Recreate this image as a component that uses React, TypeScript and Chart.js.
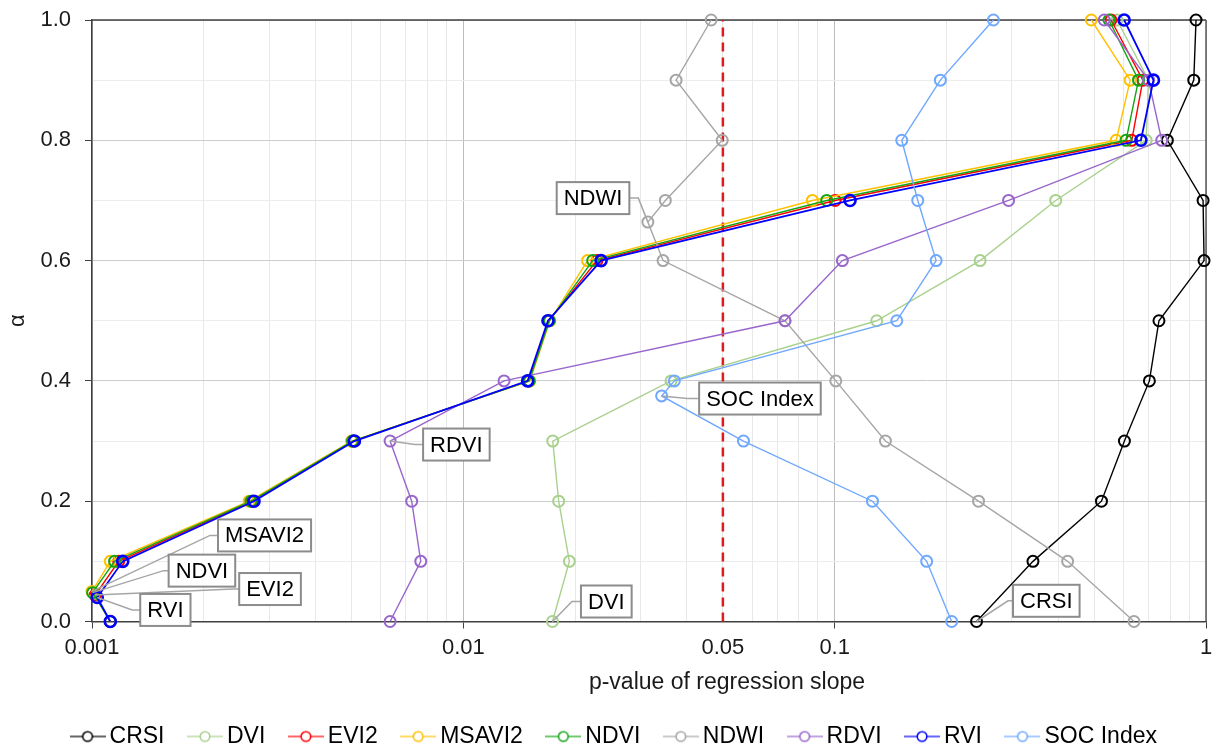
import React, { useEffect, useRef } from 'react';
import { Chart, registerables } from 'chart.js';

Chart.register(...registerables);

const FONT = '"Liberation Sans", Arial, Helvetica, sans-serif';
const TEXT = '#1a1a1a';

// α levels used by most indices
const ALPHA = [0, 0.1, 0.2, 0.3, 0.4, 0.5, 0.6, 0.7, 0.8, 0.9, 1.0];

// p-value of the regression slope for each index at each α
const CRSI_ALPHA = ALPHA;
const CRSI_P = [0.241, 0.342, 0.523, 0.603, 0.704, 0.747, 0.988, 0.982, 0.787, 0.927, 0.94];

const DVI_ALPHA = ALPHA;
const DVI_P = [0.01738, 0.0193, 0.01806, 0.01741, 0.03626, 0.1298, 0.2464, 0.3938, 0.69, 0.7, 0.576];

const EVI2_ALPHA = [0, 0.044, 0.1, 0.2, 0.3, 0.4, 0.5, 0.6, 0.7, 0.8, 0.9, 1.0];
const EVI2_P = [0.00112, 0.00102, 0.00118, 0.0027, 0.00505, 0.015, 0.017, 0.0229, 0.1003, 0.631, 0.676, 0.555];

const MSAVI2_ALPHA = [0, 0.05, 0.1, 0.2, 0.3, 0.4, 0.5, 0.6, 0.7, 0.8, 0.9, 1.0];
const MSAVI2_P = [0.00112, 0.001, 0.00112, 0.00265, 0.005, 0.0151, 0.0171, 0.0216, 0.0871, 0.573, 0.625, 0.491];

const NDVI_ALPHA = [0, 0.048, 0.1, 0.2, 0.3, 0.4, 0.5, 0.6, 0.7, 0.8, 0.9, 1.0];
const NDVI_P = [0.00112, 0.001004, 0.00115, 0.00268, 0.00503, 0.01505, 0.01705, 0.0223, 0.0952, 0.609, 0.658, 0.548];

const NDWI_ALPHA = [0, 0.1, 0.2, 0.3, 0.4, 0.5, 0.6, 0.664, 0.7, 0.8, 0.9, 1.0];
const NDWI_P = [0.64, 0.424, 0.244, 0.137, 0.1007, 0.0735, 0.0345, 0.0314, 0.035, 0.0498, 0.0374, 0.0465];

const RDVI_ALPHA = ALPHA;
const RDVI_P = [0.00635, 0.00768, 0.00726, 0.00635, 0.01287, 0.0735, 0.1049, 0.294, 0.76, 0.7, 0.532];

const RVI_ALPHA = [0, 0.04, 0.1, 0.2, 0.3, 0.4, 0.5, 0.6, 0.7, 0.8, 0.9, 1.0];
const RVI_P = [0.00112, 0.001033, 0.00121, 0.00273, 0.00509, 0.0149, 0.0169, 0.0235, 0.11, 0.668, 0.722, 0.602];

const SOC_ALPHA = [0, 0.1, 0.2, 0.3, 0.375, 0.4, 0.5, 0.6, 0.7, 0.8, 0.9, 1.0];
const SOC_P = [0.2066, 0.1769, 0.1264, 0.0568, 0.0342, 0.037, 0.147, 0.1876, 0.1674, 0.1516, 0.1926, 0.2676];

const SERIES_NAMES = ['CRSI', 'DVI', 'EVI2', 'MSAVI2', 'NDVI', 'NDWI', 'RDVI', 'RVI', 'SOC Index'];
const SERIES_ALPHAS = [CRSI_ALPHA, DVI_ALPHA, EVI2_ALPHA, MSAVI2_ALPHA, NDVI_ALPHA, NDWI_ALPHA, RDVI_ALPHA, RVI_ALPHA, SOC_ALPHA];
const SERIES_PVALUES = [CRSI_P, DVI_P, EVI2_P, MSAVI2_P, NDVI_P, NDWI_P, RDVI_P, RVI_P, SOC_P];
const SERIES_COLORS = ['#000000', '#a9d18e', '#ff0000', '#ffc000', '#14a514', '#a6a6a6', '#9966cc', '#0000ff', '#6fa8ff'];

// significance threshold marked with the dashed line
const SIGNIFICANCE = 0.05;
const SIGNIFICANCE_LABEL = 'p = 0.05';

// axis ticks
const X_TICK_LABELS = [0.001, 0.01, 0.05, 0.1, 1];
const X_DECADES = [0.001, 0.01, 0.1];
const Y_TICK_VALUES = ALPHA;
const Y_LABEL_STEP = 0.2;

const X_TITLE = 'p-value of regression slope';
const Y_TITLE = 'α';

// callout boxes: box edge offset (px) from the point it names
const CALLOUTS = [
  { series: 'MSAVI2', alpha: 0.05, dx: 126, dy: -56, side: 'left', elbow: 8 },
  { series: 'NDVI', alpha: 0.048, dx: 76, dy: -22, side: 'left', elbow: 5 },
  { series: 'EVI2', alpha: 0.044, dx: 144, dy: -6, side: 'left', elbow: 6 },
  { series: 'RVI', alpha: 0.04, dx: 43, dy: 12.5, side: 'left', elbow: 8 },
  { series: 'NDWI', alpha: 0.664, dx: -18.5, dy: -24, side: 'right', elbow: 9 },
  { series: 'RDVI', alpha: 0.3, dx: 33, dy: 3.5, side: 'left', elbow: 8 },
  { series: 'DVI', alpha: 0, dx: 28.5, dy: -20, side: 'left', elbow: 9 },
  { series: 'SOC Index', alpha: 0.375, dx: 37.5, dy: 2.6, side: 'left', elbow: 12 },
  { series: 'CRSI', alpha: 0, dx: 36.5, dy: -20.7, side: 'left', elbow: 5 },
];

const W = 1219;
const H = 749;
const LEGEND_HEIGHT = 54;
const LEGEND_SHIFT = 14;

const isDecade = (v: number) => Math.abs(Math.log10(v) - Math.round(Math.log10(v))) < 1e-6;
const isMajorY = (v: number) => Math.abs(v / Y_LABEL_STEP - Math.round(v / Y_LABEL_STEP)) < 1e-6;

function xGridValues(): number[] {
  const out: number[] = [];
  for (const d of X_DECADES) {
    for (let m = 1; m <= 9; m++) out.push(Number((m * d).toPrecision(6)));
  }
  out.push(1);
  return out;
}

function xLabel(v: number): string {
  const hit = X_TICK_LABELS.find((t) => Math.abs(v - t) / t < 1e-6);
  return hit === undefined ? '' : String(hit);
}

function makeMarker(color: string): HTMLCanvasElement {
  const c = document.createElement('canvas');
  c.width = 36;
  c.height = 14;
  const g = c.getContext('2d')!;
  g.strokeStyle = color;
  g.lineWidth = 1.6;
  g.globalAlpha = 0.8;
  g.beginPath();
  g.moveTo(0, 7);
  g.lineTo(13, 7);
  g.moveTo(23, 7);
  g.lineTo(36, 7);
  g.stroke();
  g.globalAlpha = 1;
  g.beginPath();
  g.arc(18, 7, 4.8, 0, Math.PI * 2);
  g.stroke();
  return c;
}

// fixed legend band height and a small horizontal offset for the legend row
const legendPlacementPlugin = {
  id: 'legendPlacement',
  beforeLayout(chart: any) {
    const lg = chart.legend;
    if (lg && !lg.__placed) {
      const fit = lg.fit.bind(lg);
      lg.fit = function () {
        fit();
        this.height = LEGEND_HEIGHT;
      };
      const draw = lg.draw.bind(lg);
      lg.draw = function () {
        const ctx = this.ctx;
        ctx.save();
        ctx.translate(LEGEND_SHIFT, 0);
        draw();
        ctx.restore();
      };
      lg.__placed = true;
    }
  },
};

const framePlugin = {
  id: 'frame',
  beforeDatasetsDraw(chart: any) {
    const { ctx, chartArea } = chart;
    ctx.save();
    ctx.lineWidth = 1.5;
    ctx.strokeStyle = '#404040';
    ctx.beginPath();
    ctx.moveTo(chartArea.left, chartArea.top);
    ctx.lineTo(chartArea.right, chartArea.top);
    ctx.stroke();
    ctx.strokeStyle = '#5a5a5a';
    ctx.beginPath();
    ctx.moveTo(chartArea.right, chartArea.top);
    ctx.lineTo(chartArea.right, chartArea.bottom);
    ctx.stroke();
    ctx.restore();
  },
  afterDraw(chart: any) {
    const { ctx } = chart;
    ctx.save();
    ctx.font = `23px ${FONT}`;
    ctx.fillStyle = TEXT;
    ctx.textAlign = 'center';
    ctx.textBaseline = 'middle';
    ctx.fillText(X_TITLE, 727, 683);
    ctx.restore();
  },
};

const calloutPlugin = {
  id: 'callouts',
  afterDatasetsDraw(chart: any) {
    const { ctx } = chart;
    const xs = chart.scales.x;
    const ys = chart.scales.y;
    ctx.save();
    ctx.font = `22px ${FONT}`;
    for (const c of CALLOUTS) {
      const si = SERIES_NAMES.indexOf(c.series);
      const k = SERIES_ALPHAS[si].indexOf(c.alpha);
      const ax = xs.getPixelForValue(SERIES_PVALUES[si][k]);
      const ay = ys.getPixelForValue(SERIES_ALPHAS[si][k]);
      const tw = ctx.measureText(c.series).width;
      const bw = tw + 14;
      const bh = 32;
      const ex = ax + c.dx;
      const ey = ay + c.dy;
      const bx = c.side === 'left' ? ex : ex - bw;
      const kx = c.side === 'left' ? ex - c.elbow : ex + c.elbow;
      ctx.strokeStyle = '#a6a6a6';
      ctx.lineWidth = 1.5;
      ctx.beginPath();
      ctx.moveTo(ax, ay);
      ctx.lineTo(kx, ey);
      ctx.lineTo(ex, ey);
      ctx.stroke();
      ctx.fillStyle = '#ffffff';
      ctx.fillRect(bx, ey - bh / 2, bw, bh);
      ctx.strokeStyle = '#8c8c8c';
      ctx.lineWidth = 2;
      ctx.strokeRect(bx, ey - bh / 2, bw, bh);
      ctx.fillStyle = '#000000';
      ctx.textAlign = 'left';
      ctx.textBaseline = 'middle';
      ctx.fillText(c.series, bx + 7, ey + 1);
    }
    ctx.restore();
  },
};

export default function App() {
  const ref = useRef<HTMLCanvasElement | null>(null);

  useEffect(() => {
    document.body.style.margin = '0';
    const canvas = ref.current;
    if (!canvas) return;
    const markers = SERIES_COLORS.map((c) => makeMarker(c));
    const n = SERIES_NAMES.length;

    const datasets: any[] = SERIES_NAMES.map((name, i) => ({
      label: name,
      data: SERIES_ALPHAS[i].map((a, k) => ({ x: SERIES_PVALUES[i][k], y: a })),
      borderColor: SERIES_COLORS[i],
      backgroundColor: 'rgba(0,0,0,0)',
      borderWidth: name === 'RVI' ? 1.8 : 1.4,
      pointRadius: 5.5,
      pointBorderWidth: name === 'RVI' ? 2.6 : 2,
      pointBorderColor: SERIES_COLORS[i],
      pointBackgroundColor: 'rgba(0,0,0,0)',
      pointStyle: 'circle',
      fill: false,
      tension: 0,
      clip: false,
      order: n - i,
    }));
    datasets.push({
      label: SIGNIFICANCE_LABEL,
      data: [
        { x: SIGNIFICANCE, y: 0 },
        { x: SIGNIFICANCE, y: 1 },
      ],
      borderColor: '#e31a1c',
      borderDash: [9, 6],
      borderWidth: 2.5,
      pointRadius: 0,
      fill: false,
      clip: false,
      order: 100,
    });

    const gridX = xGridValues();

    const chart = new Chart(canvas, {
      type: 'line',
      data: { datasets },
      plugins: [legendPlacementPlugin, framePlugin, calloutPlugin],
      options: {
        responsive: false,
        animation: false,
        events: [],
        layout: { padding: { top: 20, right: 13, left: 0, bottom: 0 } },
        scales: {
          x: {
            type: 'logarithmic',
            min: 0.001,
            max: 1,
            afterBuildTicks: (s: any) => {
              s.ticks = gridX.map((v) => ({ value: v }));
            },
            afterFit: (s: any) => {
              s.height = 73.5;
            },
            ticks: {
              autoSkip: false,
              maxRotation: 0,
              padding: 6,
              color: TEXT,
              font: { size: 22, family: FONT },
              callback: (v: any) => xLabel(Number(v)),
            },
            grid: {
              color: (ctx: any) => (ctx.tick && isDecade(ctx.tick.value) ? '#bdbdbd' : '#e8e8e8'),
              tickColor: (ctx: any) => (ctx.tick && isDecade(ctx.tick.value) ? '#404040' : 'rgba(0,0,0,0)'),
              tickLength: 7,
              lineWidth: 1,
            },
            border: { color: '#404040', width: 1.5 },
          } as any,
          y: {
            type: 'linear',
            min: 0,
            max: 1,
            afterBuildTicks: (s: any) => {
              s.ticks = Y_TICK_VALUES.map((v) => ({ value: v }));
            },
            afterFit: (s: any) => {
              s.width = 92;
              s.paddingTop = 0;
              s.paddingBottom = 0;
            },
            ticks: {
              autoSkip: false,
              padding: 14,
              color: TEXT,
              font: { size: 22, family: FONT },
              callback: (v: any) => (isMajorY(Number(v)) ? Number(v).toFixed(1) : ''),
            },
            grid: {
              color: (ctx: any) => (ctx.tick && isMajorY(ctx.tick.value) ? '#cccccc' : '#ececec'),
              tickColor: (ctx: any) => (ctx.tick && isMajorY(ctx.tick.value) ? '#404040' : 'rgba(0,0,0,0)'),
              tickLength: 7,
              lineWidth: 1,
            },
            border: { color: '#404040', width: 1.5 },
            title: {
              display: true,
              text: Y_TITLE,
              color: TEXT,
              font: { size: 22, family: FONT },
              padding: { top: 5, bottom: 0 },
            },
          } as any,
        },
        plugins: {
          tooltip: { enabled: false },
          legend: {
            position: 'bottom',
            labels: {
              usePointStyle: true,
              pointStyleWidth: 21,
              padding: 30,
              color: '#000000',
              font: { size: 23, family: FONT },
              generateLabels: (ch: any) => {
                const base = (Chart.defaults as any).plugins.legend.labels.generateLabels(ch);
                return base
                  .filter((it: any) => it.datasetIndex < n)
                  .map((it: any) => ({ ...it, pointStyle: markers[it.datasetIndex], lineWidth: 0 }));
              },
              sort: (a: any, b: any) => a.datasetIndex - b.datasetIndex,
            },
          } as any,
        },
      },
    } as any);

    return () => chart.destroy();
  }, []);

  return (
    <div style={{ position: 'absolute', left: 0, top: 0, width: W, height: H, background: '#ffffff' }}>
      <canvas ref={ref} width={W} height={H} style={{ display: 'block' }} />
    </div>
  );
}
